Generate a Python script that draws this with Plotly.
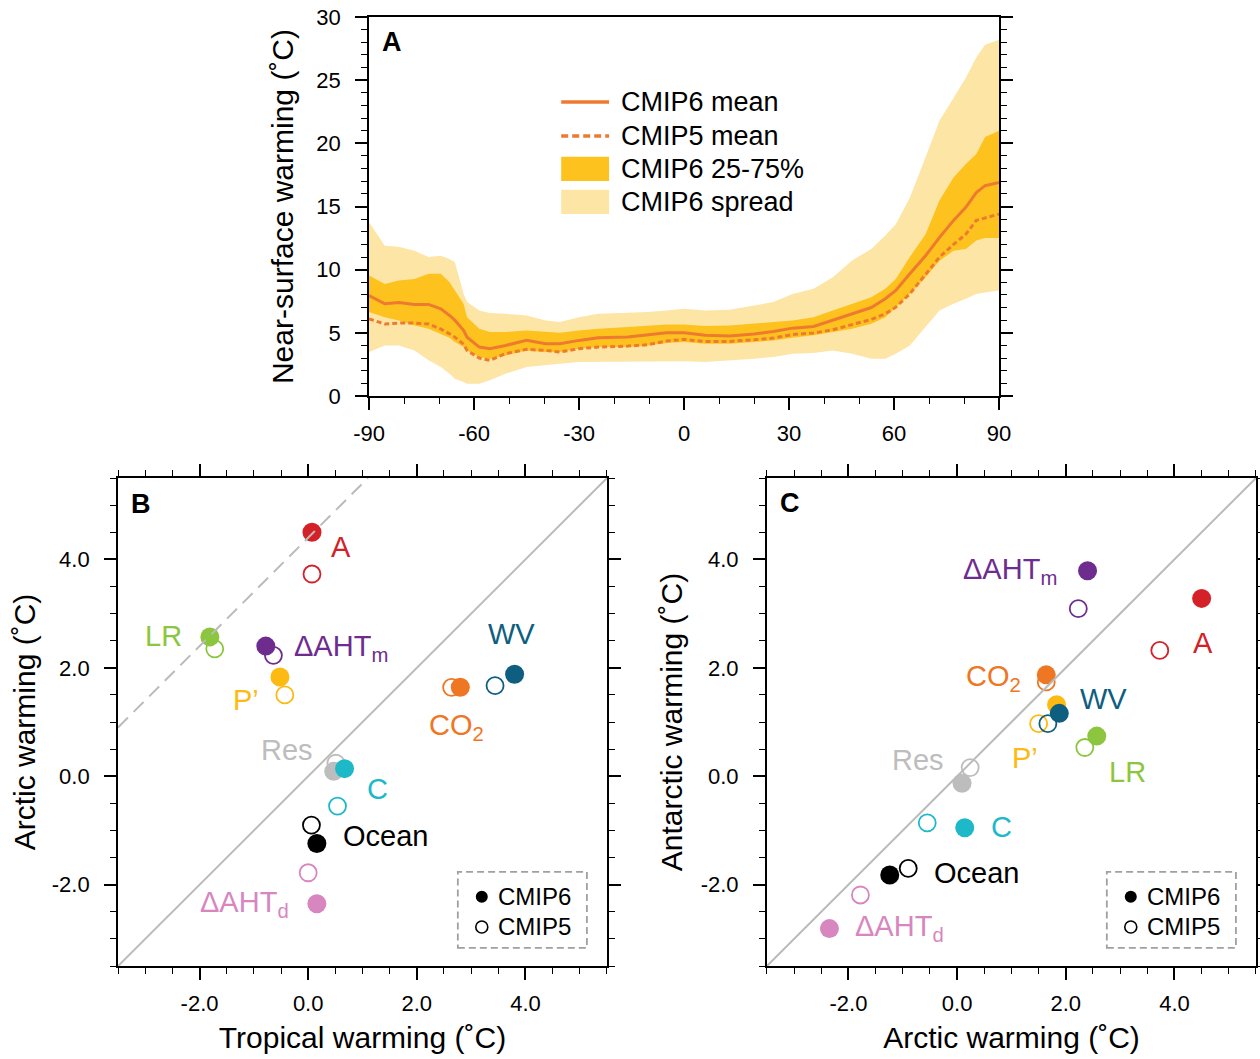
import plotly.graph_objects as go

# ---------------- Panel A: zonal-mean near-surface warming ----------------
lat = [-90, -85.5, -81.5, -77, -73, -69.5, -67, -65.5, -63, -62, -58.5, -55.5, -51, -45,
       -39.5, -35.5, -30, -24.5, -16, -10.5, -5, 0, 6, 13, 20, 25.5, 31, 37, 42.5, 48,
       53.5, 57.5, 60.5, 64.5, 69, 73, 77, 80.5, 83.5, 86, 90]
cmip6_mean = [7.95, 7.3, 7.4, 7.25, 7.25, 6.9, 6.37, 6.0, 5.2, 4.65, 3.87, 3.74, 4.0, 4.4,
              4.13, 4.13, 4.4, 4.6, 4.66, 4.8, 5.0, 5.0, 4.8, 4.74, 4.9, 5.1, 5.37, 5.5, 6.0, 6.5,
              7.0, 7.7, 8.35, 9.67, 11.1, 12.56, 13.9, 14.93, 16.1, 16.65, 16.9]
cmip5_mean = [6.1, 5.7, 5.77, 5.77, 5.7, 5.3, 4.92, 4.66, 4.1, 3.6, 3.0, 2.82, 3.35, 3.69,
              3.6, 3.48, 3.74, 3.87, 3.95, 4.05, 4.35, 4.48, 4.32, 4.32, 4.45, 4.58, 4.87, 4.98, 5.24, 5.66,
              6.06, 6.5, 7.03, 8.08, 9.67, 11.0, 12.0, 12.8, 13.9, 14.1, 14.4]
cmip6_p75 = [9.53, 8.87, 9.14, 9.27, 9.67, 9.67, 9.0, 8.35, 7.3, 6.24, 5.32, 5.06, 5.06, 5.19,
             5.06, 5.0, 5.19, 5.32, 5.45, 5.58, 5.66, 5.66, 5.53, 5.58, 5.71, 5.85, 5.98, 6.24, 6.77, 7.3,
             7.82, 8.48, 9.27, 11.0, 12.8, 15.5, 17.3, 18.36, 19.15, 20.5, 21.0]
cmip6_p25 = [6.64, 6.24, 5.98, 5.58, 5.32, 4.92, 4.6, 4.27, 3.87, 3.6, 3.08, 2.95, 3.21, 3.6,
             3.48, 3.48, 3.74, 3.87, 3.87, 4.0, 4.19, 4.27, 4.13, 4.13, 4.27, 4.4, 4.6, 4.8, 5.06, 5.32,
             5.71, 6.24, 7.03, 8.08, 9.4, 10.7, 11.5, 11.64, 12.3, 12.5, 12.5]
cmip6_max = [13.75, 11.9, 11.82, 11.5, 11.0, 11.1, 10.85, 10.6, 8.1, 7.43, 6.77, 6.56, 6.5, 6.37,
             5.98, 5.85, 6.24, 6.5, 6.58, 6.64, 6.77, 6.9, 6.77, 6.82, 7.16, 7.43, 8.08, 8.48, 9.4, 10.72,
             11.64, 12.7, 13.6, 15.7, 18.9, 21.8, 23.6, 25.2, 26.8, 27.8, 28.2]
cmip6_min = [3.48, 4.0, 4.0, 3.6, 2.82, 2.29, 1.76, 1.37, 1.1, 0.97, 0.97, 1.24, 1.76, 2.29,
             2.42, 2.55, 2.69, 2.69, 2.69, 2.74, 2.74, 2.74, 2.69, 2.82, 2.95, 3.08, 3.34, 3.4, 3.6, 3.34,
             2.95, 2.95, 3.34, 4.0, 5.45, 6.77, 7.3, 7.7, 8.08, 8.2, 8.35]
lat_ticks = [-90, -60, -30, 0, 30, 60, 90]
lat_ticktext = ["-90", "-60", "-30", "0", "30", "60", "90"]
warm_ticks = [0, 5, 10, 15, 20, 25, 30]

# ---------------- Panels B and C: regional warming contributions ----------------
terms = ["A", "LR", "AHTm", "P", "WV", "CO2", "Res", "C", "Ocean", "AHTd"]
term_labels = ["A", "LR", "ΔAHT<sub>m</sub>", "P’", "WV", "CO<sub>2</sub>", "Res", "C",
               "Ocean", "ΔAHT<sub>d</sub>"]
tropic_cmip6 = [0.07, -1.81, -0.78, -0.52, 3.80, 2.80, 0.47, 0.67, 0.16, 0.16]
tropic_cmip5 = [0.07, -1.72, -0.64, -0.43, 3.44, 2.64, 0.51, 0.54, 0.06, 0.00]
arctic_cmip6 = [4.50, 2.57, 2.40, 1.83, 1.88, 1.64, 0.09, 0.14, -1.24, -2.35]
arctic_cmip5 = [3.73, 2.35, 2.23, 1.50, 1.67, 1.64, 0.24, -0.55, -0.90, -1.78]
antarc_cmip6 = [3.28, 0.74, 3.79, 1.32, 1.16, 1.87, -0.13, -0.95, -1.82, -2.81]
antarc_cmip5 = [2.32, 0.53, 3.09, 0.97, 0.97, 1.74, 0.16, -0.86, -1.70, -2.19]
scatter_ticks = [-2.0, 0.0, 2.0, 4.0]
scatter_ticktext = ["-2.0", "0.0", "2.0", "4.0"]

# ---------------- styling ----------------
FONT = "Liberation Sans, Arial, Helvetica, sans-serif"
C_LINE = "#EE7A30"
C_IQR = "#FDC21E"
C_SPREAD = "#FDE5A5"
TERM_COLORS = {
    "A": "#D42027", "LR": "#8CC63E", "AHTm": "#6D2C8E", "P": "#FDBA12", "WV": "#0E5E80",
    "CO2": "#EF7622", "Res": "#BDBDBD", "C": "#1DB9C8", "Ocean": "#000000", "AHTd": "#D786C0",
}
SC_RANGE = [-3.5, 5.5]
OFFSET_LINE = 4.4   # dashed guide y = x + offset in panel B

# label anchor positions (data coordinates, left-aligned) for each panel
LABEL_POS_B = {
    "A": (0.38, 4.23), "LR": (-3.05, 2.58), "AHTm": (-0.30, 2.37), "P": (-1.42, 1.40),
    "WV": (3.28, 2.62), "CO2": (2.18, 0.90), "Res": (-0.90, 0.48), "C": (1.04, -0.24),
    "Ocean": (0.60, -1.10), "AHTd": (-2.03, -2.36),
}
LABEL_POS_C = {
    "A": (4.30, 2.46), "LR": (2.76, 0.07), "AHTm": (0.08, 3.78), "P": (0.98, 0.34),
    "WV": (2.22, 1.42), "CO2": (0.12, 1.82), "Res": (-1.23, 0.30), "C": (0.58, -0.93),
    "Ocean": (-0.47, -1.79), "AHTd": (-1.91, -2.79),
}

fig = go.Figure()

# Panel A bands and means
fig.add_trace(go.Scatter(x=lat + lat[::-1], y=cmip6_max + cmip6_min[::-1], fill="toself",
                         fillcolor=C_SPREAD, line=dict(width=0), mode="lines",
                         hoverinfo="skip", showlegend=False, xaxis="x", yaxis="y"))
fig.add_trace(go.Scatter(x=lat + lat[::-1], y=cmip6_p75 + cmip6_p25[::-1], fill="toself",
                         fillcolor=C_IQR, line=dict(width=0), mode="lines",
                         hoverinfo="skip", showlegend=False, xaxis="x", yaxis="y"))
fig.add_trace(go.Scatter(x=lat, y=cmip5_mean, mode="lines",
                         line=dict(color=C_LINE, width=3, dash="5px,3px"),
                         showlegend=False, xaxis="x", yaxis="y"))
fig.add_trace(go.Scatter(x=lat, y=cmip6_mean, mode="lines",
                         line=dict(color=C_LINE, width=3), showlegend=False,
                         xaxis="x", yaxis="y"))


def add_points(xs6, ys6, xs5, ys5, xa, ya):
    for i, t in enumerate(terms):
        col = TERM_COLORS[t]
        fig.add_trace(go.Scatter(x=[xs5[i]], y=[ys5[i]], mode="markers",
                                 marker=dict(size=17, color="rgba(255,255,255,0)",
                                             line=dict(color=col, width=1.8)),
                                 showlegend=False, xaxis=xa, yaxis=ya))
        fig.add_trace(go.Scatter(x=[xs6[i]], y=[ys6[i]], mode="markers",
                                 marker=dict(size=19, color=col, line=dict(width=0)),
                                 showlegend=False, xaxis=xa, yaxis=ya))


add_points(tropic_cmip6, arctic_cmip6, tropic_cmip5, arctic_cmip5, "x2", "y2")
add_points(arctic_cmip6, antarc_cmip6, arctic_cmip5, antarc_cmip5, "x3", "y3")

# 1:1 reference lines and the offset guide
for xa, ya in (("x2", "y2"), ("x3", "y3")):
    fig.add_trace(go.Scatter(x=SC_RANGE, y=SC_RANGE, mode="lines",
                             line=dict(color="#BBBBBB", width=2), showlegend=False,
                             hoverinfo="skip", xaxis=xa, yaxis=ya))
fig.add_trace(go.Scatter(x=[SC_RANGE[0], SC_RANGE[1] - OFFSET_LINE],
                         y=[SC_RANGE[0] + OFFSET_LINE, SC_RANGE[1]], mode="lines",
                         line=dict(color="#BBBBBB", width=2, dash="14px,8px"),
                         showlegend=False, hoverinfo="skip", xaxis="x2", yaxis="y2"))

annotations = []
shapes = []

# term labels
for pos, xa, ya in ((LABEL_POS_B, "x2", "y2"), (LABEL_POS_C, "x3", "y3")):
    for t, lab in zip(terms, term_labels):
        x, y = pos[t]
        annotations.append(dict(x=x, y=y, xref=xa, yref=ya, text=lab, showarrow=False,
                                xanchor="left", yanchor="middle",
                                font=dict(family=FONT, size=29, color=TERM_COLORS[t])))

# panel letters
for letter, xr, yr, px, py in (("A", "x domain", "y domain", 0.018, 0.934),
                               ("B", "x2 domain", "y2 domain", 0.022, 0.947),
                               ("C", "x3 domain", "y3 domain", 0.022, 0.949)):
    annotations.append(dict(x=px, y=py, xref=xr, yref=yr, text=f"<b>{letter}</b>",
                            showarrow=False, xanchor="left", yanchor="middle",
                            font=dict(family=FONT, size=27, color="black")))

# Panel A legend
leg_rows = [0.776, 0.686, 0.599, 0.512]
leg_text = ["CMIP6 mean", "CMIP5 mean", "CMIP6 25-75%", "CMIP6 spread"]
sx0, sx1 = 0.305, 0.381
shapes.append(dict(type="line", xref="x domain", yref="y domain", x0=sx0, x1=sx1,
                   y0=leg_rows[0], y1=leg_rows[0], line=dict(color=C_LINE, width=3.5)))
shapes.append(dict(type="line", xref="x domain", yref="y domain", x0=sx0, x1=sx1,
                   y0=leg_rows[1], y1=leg_rows[1],
                   line=dict(color=C_LINE, width=3.5, dash="7px,4px")))
for row, col in ((leg_rows[2], C_IQR), (leg_rows[3], C_SPREAD)):
    shapes.append(dict(type="rect", xref="x domain", yref="y domain", x0=sx0, x1=sx1,
                       y0=row - 0.032, y1=row + 0.032, fillcolor=col, line=dict(width=0),
                       layer="above"))
for row, txt in zip(leg_rows, leg_text):
    annotations.append(dict(x=0.397, y=row, xref="x domain", yref="y domain", text=txt,
                            showarrow=False, xanchor="left", yanchor="middle",
                            font=dict(family=FONT, size=27, color="black")))

# Panels B/C legend boxes
for xr, yr in (("x2 domain", "y2 domain"), ("x3 domain", "y3 domain")):
    shapes.append(dict(type="rect", xref=xr, yref=yr, x0=0.695, x1=0.959, y0=0.037, y1=0.193,
                       line=dict(color="#A0A0A0", width=1.8, dash="7px,4px"),
                       fillcolor="rgba(0,0,0,0)"))
    for row, filled, txt in ((0.142, True, "CMIP6"), (0.080, False, "CMIP5")):
        shapes.append(dict(type="circle", xref=xr, yref=yr, xsizemode="pixel",
                           ysizemode="pixel", xanchor=0.744, yanchor=row,
                           x0=-6, x1=6, y0=-6, y1=6,
                           fillcolor="black" if filled else "white",
                           line=dict(color="black", width=0 if filled else 1.6)))
        annotations.append(dict(x=0.774, y=row, xref=xr, yref=yr, text=txt, showarrow=False,
                                xanchor="left", yanchor="middle",
                                font=dict(family=FONT, size=24, color="black")))

axis_common = dict(showline=True, linecolor="black", linewidth=2, showgrid=False,
                   zeroline=False, ticks="outside", ticklen=12, tickwidth=1.6,
                   tickcolor="black", automargin=False,
                   tickfont=dict(family=FONT, size=22, color="black"))

title_font = dict(family=FONT, size=30, color="black")

minor_sc = dict(dtick=0.5, ticklen=6, tickwidth=1.4, ticks="outside", tickcolor="black")

layout_axes = dict(
    xaxis=dict(domain=[0.2929, 0.7929], anchor="y", range=[-90, 90], tickvals=lat_ticks,
               ticktext=lat_ticktext, mirror=True, ticklabelstandoff=5,
               minor=dict(dtick=10, ticklen=6, tickwidth=1.4, ticks="outside",
                          tickcolor="black"),
               **axis_common),
    yaxis=dict(domain=[0.6261, 0.9839], anchor="x", range=[0, 30], tickvals=warm_ticks,
               mirror="allticks", ticklabelstandoff=10,
               minor=dict(dtick=1, ticklen=6, tickwidth=1.4, ticks="outside",
                          tickcolor="black"),
               title=dict(text="Near-surface warming (˚C)", font=title_font, standoff=14),
               **axis_common),
    xaxis2=dict(domain=[0.0937, 0.4817], anchor="y2", range=SC_RANGE, tickvals=scatter_ticks,
                ticktext=scatter_ticktext, mirror="allticks", minor=minor_sc,
                ticklabelstandoff=5,
                title=dict(text="Tropical warming (˚C)", font=title_font, standoff=12),
                **axis_common),
    yaxis2=dict(domain=[0.0878, 0.5486], anchor="x2", range=SC_RANGE, tickvals=scatter_ticks,
                ticktext=scatter_ticktext, mirror="allticks", minor=minor_sc,
                ticklabelstandoff=10,
                title=dict(text="Arctic warming (˚C)", font=title_font, standoff=7),
                **axis_common),
    xaxis3=dict(domain=[0.6087, 0.9968], anchor="y3", range=SC_RANGE, tickvals=scatter_ticks,
                ticktext=scatter_ticktext, mirror="allticks", minor=minor_sc,
                ticklabelstandoff=5,
                title=dict(text="Arctic warming (˚C)", font=title_font, standoff=12),
                **axis_common),
    yaxis3=dict(domain=[0.0878, 0.5486], anchor="x3", range=SC_RANGE, tickvals=scatter_ticks,
                ticktext=scatter_ticktext, mirror="allticks", minor=minor_sc,
                ticklabelstandoff=10,
                title=dict(text="Antarctic warming (˚C)", font=title_font, standoff=9),
                **axis_common),
)

fig.update_layout(
    width=1260, height=1059, autosize=False,
    margin=dict(l=0, r=0, t=0, b=0),
    paper_bgcolor="white", plot_bgcolor="white",
    font=dict(family=FONT, color="black"),
    showlegend=False,
    annotations=annotations, shapes=shapes,
    **layout_axes,
)

fig.write_html("out.html")
